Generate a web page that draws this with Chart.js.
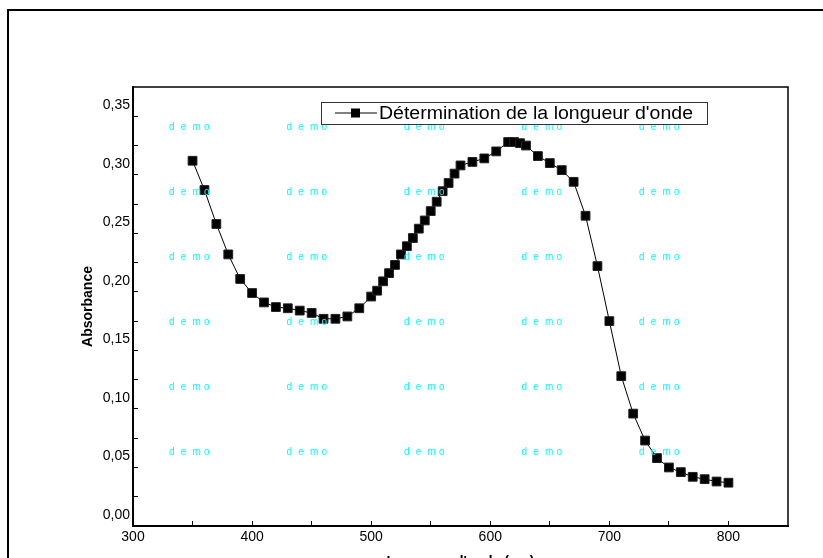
<!DOCTYPE html>
<html lang="fr">
<head>
  <meta charset="UTF-8" />
  <title>Détermination de la longueur d'onde</title>
  <script src="https://cdn.jsdelivr.net/npm/chart.js"></script>
  <style>
    body {
      margin: 0;
      background: #fff;
    }
    canvas {
      display: block;
    }
  </style>
</head>
<body>
  <canvas id="grafica" width="823" height="558"></canvas>

  <script>
    // données
    const longueurs = [350, 360, 370, 380, 390, 400, 410, 420, 430, 440, 450, 460, 470, 480, 490,
      500, 505, 510, 515, 520, 525, 530, 535, 540, 545, 550, 555, 560, 565, 570, 575,
      585, 595, 605, 615, 620, 625, 630, 640, 650, 660, 670, 680, 690, 700,
      710, 720, 730, 740, 750, 760, 770, 780, 790, 800];
    const absorbances = [0.312, 0.287, 0.258, 0.232, 0.211, 0.199, 0.191, 0.187, 0.186, 0.184, 0.182, 0.177, 0.177, 0.179, 0.186,
      0.196, 0.201, 0.209, 0.216, 0.223, 0.232, 0.239, 0.246, 0.254, 0.261, 0.269, 0.277, 0.286, 0.293, 0.301, 0.308,
      0.311, 0.314, 0.320, 0.328, 0.328, 0.327, 0.325, 0.316, 0.310, 0.304, 0.294, 0.265, 0.222, 0.175,
      0.128, 0.096, 0.073, 0.058, 0.050, 0.046, 0.042, 0.040, 0.038, 0.037];

    const xTicks = [300, 350, 400, 450, 500, 550, 600, 650, 700, 750, 800];
    const xLabels = [300, 400, 500, 600, 700, 800];
    const yTicks = [0, 0.025, 0.05, 0.075, 0.1, 0.125, 0.15, 0.175, 0.2, 0.225, 0.25, 0.275, 0.3, 0.325, 0.35];
    const yLabels = [0, 0.05, 0.1, 0.15, 0.2, 0.25, 0.3, 0.35];

    const legende = "Détermination de la longueur d'onde";
    const titreX = "Longueur d'onde (nm)";
    const titreY = "Absorbance";
    const filigrane = ["d", "e", "m", "o"];

    const police = "Arial, 'Liberation Sans', sans-serif";
    Chart.defaults.font.family = police;
    Chart.defaults.color = "#000";

    const estLabel = (liste, v) => liste.some(l => Math.abs(l - v) < 1e-6);

    // cadre extérieur, bords haut/droite, filigrane et légende
    const decor = {
      id: "decor",
      beforeDraw(chart) {
        const ctx = chart.ctx;
        ctx.save();
        ctx.fillStyle = "#fff";
        ctx.fillRect(0, 0, chart.width, chart.height);
        ctx.strokeStyle = "#000";
        ctx.lineWidth = 2;
        ctx.beginPath();
        ctx.moveTo(8, chart.height + 5);
        ctx.lineTo(8, 10);
        ctx.lineTo(chart.width + 5, 10);
        ctx.stroke();
        ctx.restore();
      },
      afterDatasetsDraw(chart) {
        const ctx = chart.ctx;
        const a = chart.chartArea;
        ctx.save();

        ctx.strokeStyle = "#000";
        ctx.lineWidth = 1.5;
        ctx.beginPath();
        ctx.moveTo(a.left, a.top);
        ctx.lineTo(a.right, a.top);
        ctx.lineTo(a.right, a.bottom);
        ctx.stroke();

        // filigrane "demo"
        ctx.fillStyle = "#0ff";
        ctx.font = "10px " + police;
        ctx.textBaseline = "middle";
        ctx.textAlign = "left";
        for (let c = 0; c < 5; c++) {
          for (let r = 0; r < 6; r++) {
            const x0 = a.left + 36 + c * 117.5;
            const y0 = a.top + 40 + r * 65;
            filigrane.forEach((ch, i) => ctx.fillText(ch, x0 + i * 11.7, y0));
          }
        }

        // légende
        const lx = a.left + 188, ly = a.top + 15, lw = 386, lh = 22;
        ctx.fillStyle = "#fff";
        ctx.fillRect(lx, ly, lw, lh);
        ctx.strokeStyle = "#333";
        ctx.lineWidth = 1;
        ctx.strokeRect(lx + 0.5, ly + 0.5, lw, lh);
        const cy = ly + lh / 2;
        ctx.strokeStyle = "#000";
        ctx.beginPath();
        ctx.moveTo(lx + 14, cy);
        ctx.lineTo(lx + 56, cy);
        ctx.stroke();
        ctx.fillStyle = "#000";
        ctx.fillRect(lx + 30, cy - 4.5, 9, 9);
        ctx.font = "18px " + police;
        ctx.textBaseline = "middle";
        const largeur = ctx.measureText(legende).width;
        ctx.translate(lx + 58, cy + 1);
        ctx.scale(314 / largeur, 1);
        ctx.fillText(legende, 0, 0);

        ctx.restore();
      }
    };

    const ctx = document.getElementById("grafica").getContext("2d");
    const chart = new Chart(ctx, {
      type: "line",
      data: {
        datasets: [{
          label: legende,
          data: longueurs.map((x, i) => ({ x: x, y: absorbances[i] })),
          borderColor: "#000",
          borderWidth: 1,
          backgroundColor: "#000",
          pointStyle: "rect",
          pointRadius: 6.2,
          pointBorderWidth: 1,
          pointBorderColor: "#222",
          pointBackgroundColor: "#000",
          tension: 0,
          fill: false
        }]
      },
      options: {
        responsive: false,
        animation: false,
        layout: {
          padding: { left: 0, top: 87, right: 35, bottom: 0 }
        },
        scales: {
          x: {
            type: "linear",
            min: 300,
            max: 850,
            afterFit: s => { s.height = 32; },
            afterBuildTicks: s => { s.ticks = xTicks.map(v => ({ value: v })); },
            border: { display: true, color: "#000", width: 2 },
            grid: { drawOnChartArea: false, color: "#000", tickLength: -5, tickWidth: 1 },
            ticks: {
              padding: 8,
              font: { size: 14 },
              maxRotation: 0,
              autoSkip: false,
              callback: v => estLabel(xLabels, v) ? String(v) : ""
            },
            title: {
              display: true,
              text: titreX,
              font: { size: 14, weight: "bold" },
              padding: { top: 0, bottom: -13 }
            }
          },
          y: {
            min: 0,
            max: 0.375,
            afterFit: s => { s.width = 133; },
            afterBuildTicks: s => { s.ticks = yTicks.map(v => ({ value: v })); },
            border: { display: true, color: "#000", width: 2 },
            grid: { drawOnChartArea: false, color: "#000", tickLength: -5, tickWidth: 1 },
            ticks: {
              padding: 8,
              labelOffset: -11,
              font: { size: 14 },
              autoSkip: false,
              callback: v => estLabel(yLabels, v) ? v.toFixed(2).replace(".", ",") : ""
            },
            title: {
              display: true,
              text: titreY,
              font: { size: 14, weight: "bold" },
              padding: { top: 80, bottom: 0 }
            }
          }
        },
        plugins: {
          legend: { display: false },
          tooltip: { enabled: false }
        }
      },
      plugins: [decor]
    });
  </script>
</body>
</html>
